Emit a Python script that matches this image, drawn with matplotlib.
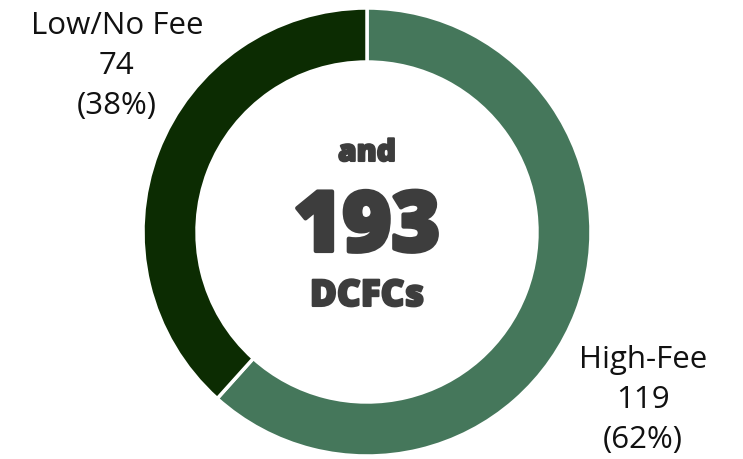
import matplotlib.pyplot as plt
from matplotlib import font_manager
from matplotlib.font_manager import FontProperties
import matplotlib.patheffects as pe

labels = ["High-Fee", "Low/No Fee"]
counts = [119, 74]
colors = ["#45775b", "#0c2c02"]
total = sum(counts)

# find the static ExtraBold cut of Open Sans
xb_path = None
for f in font_manager.fontManager.ttflist:
    if f.fname.endswith("OpenSans-ExtraBold.ttf"):
        xb_path = f.fname
xb = dict(fname=xb_path) if xb_path else dict(family="Open Sans", weight=800)

W, H = 743, 459
fig = plt.figure(figsize=(W / 100, H / 100), dpi=100)
ax = fig.add_axes([0, 0, 1, 1])

cx, cy, R = 367, H - 232, 224
ax.pie(counts, colors=colors, startangle=90, counterclock=False,
       center=(cx, cy), radius=R, frame=True,
       wedgeprops=dict(width=54, edgecolor="white", linewidth=2.5))
ax.set_xlim(0, W)
ax.set_ylim(0, H)
ax.set_aspect("equal")
ax.axis("off")

pct = [round(100 * c / total) for c in counts]
ax.text(643, H - 400, f"{labels[0]}\n{counts[0]}\n({pct[0]}%)", ha="center", va="center",
        fontsize=22.5, family="Open Sans", linespacing=1.45, color="#111111")
ax.text(117, H - 66, f"{labels[1]}\n{counts[1]}\n({pct[1]}%)", ha="center", va="center",
        fontsize=22.5, family="Open Sans", linespacing=1.45, color="#111111")

# center text, slightly fattened to match the heavy weight
dark = "#3d3d3d"
ax.text(cx, H - 161, "and", ha="center", va="baseline", fontproperties=FontProperties(size=21.5, **xb),
        color=dark, path_effects=[pe.withStroke(linewidth=1.5, foreground=dark)])
ax.text(cx, H - 251, str(total), ha="center", va="baseline", fontproperties=FontProperties(size=60, **xb),
        color=dark, path_effects=[pe.withStroke(linewidth=3, foreground=dark)])
ax.text(cx, H - 306, "DCFCs", ha="center", va="baseline", fontproperties=FontProperties(size=26.5, **xb),
        color=dark, path_effects=[pe.withStroke(linewidth=1.5, foreground=dark)])

fig.savefig("out.png", dpi=100)
